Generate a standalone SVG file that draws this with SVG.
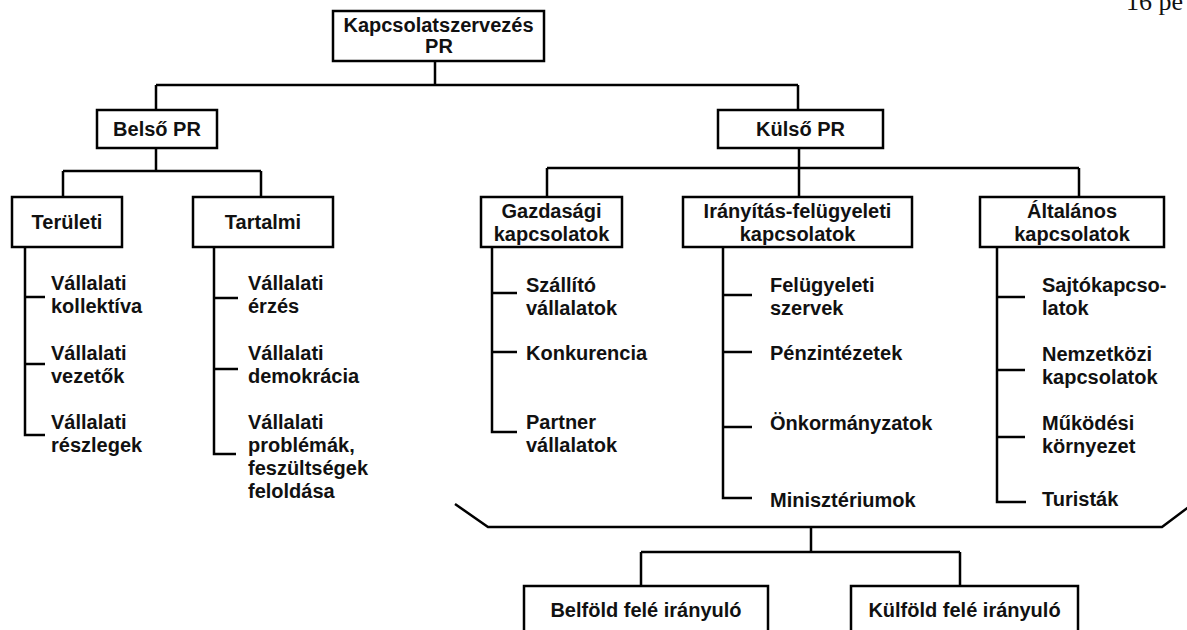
<svg xmlns="http://www.w3.org/2000/svg" width="1187" height="630" viewBox="0 0 1187 630">
<style>
.box{fill:#fff;stroke:#000;stroke-width:2.5}
.ln{fill:none;stroke:#000;stroke-width:2.5}
.t{font-family:"Liberation Sans",Arial,sans-serif;font-weight:bold;font-size:20px;fill:#111}
.c{text-anchor:middle}
.pg{font-family:"Liberation Serif","Times New Roman",serif;font-size:26px;fill:#111}
</style>
<rect width="1187" height="630" fill="#fff"/>
<text class="pg" x="1126" y="10">16 pe</text>
<g id="connectors">
<path class="ln" d="M435,61V85M156,85H798M156,85V110M798,85V110"/>
<path class="ln" d="M156,148V171M63,171H261M63,171V197M261,171V197"/>
<path class="ln" d="M799,148V197M547,168H1079M547,168V197M1079,168V197"/>
<path class="ln" d="M25,247V435H45M25,297H45M25,364H45"/>
<path class="ln" d="M214,247V454H236M214,298H238M214,369H238"/>
<path class="ln" d="M492,247V432H517M492,293H517M492,352H517"/>
<path class="ln" d="M723,247V498H752M723,295H752M723,352H752M723,427H752"/>
<path class="ln" d="M997,247V502H1026M997,297H1025M997,370H1025M997,437H1025"/>
<path class="ln" d="M455,504L488,527H1162L1190,506"/>
<path class="ln" d="M811,527V552M641,552H960M641,552V586M960,552V586"/>
</g>
<g id="root"><rect class="box" x="333" y="11" width="211" height="50"/><text class="t c" x="438.5" y="32">Kapcsolatszervezés</text><text class="t c" x="439" y="53">PR</text></g>
<g id="belso"><rect class="box" x="97" y="110" width="120" height="38"/><text class="t c" x="157" y="136">Belső PR</text></g>
<g id="kulso"><rect class="box" x="718" y="110" width="165" height="38"/><text class="t c" x="800.5" y="136">Külső PR</text></g>
<g id="teruleti"><rect class="box" x="12" y="197" width="110" height="50"/><text class="t c" x="67" y="229">Területi</text></g>
<g id="tartalmi"><rect class="box" x="193" y="197" width="140" height="50"/><text class="t c" x="263" y="229">Tartalmi</text></g>
<g id="gazdasagi"><rect class="box" x="481" y="197" width="141" height="50"/><text class="t c" x="551.5" y="218">Gazdasági</text><text class="t c" x="551.5" y="241">kapcsolatok</text></g>
<g id="iranyitas"><rect class="box" x="683" y="197" width="229" height="50"/><text class="t c" x="797.5" y="218">Irányítás-felügyeleti</text><text class="t c" x="797.5" y="241">kapcsolatok</text></g>
<g id="altalanos"><rect class="box" x="980" y="197" width="184" height="50"/><text class="t c" x="1072" y="218">Általános</text><text class="t c" x="1072" y="241">kapcsolatok</text></g>
<g id="belfold"><rect class="box" x="524" y="586" width="244" height="70"/><text class="t c" x="646" y="617">Belföld felé irányuló</text></g>
<g id="kulfold"><rect class="box" x="851" y="586" width="227" height="70"/><text class="t c" x="964.5" y="617">Külföld felé irányuló</text></g>
<g id="ter1"><text class="t" x="51" y="290">Vállalati<tspan x="51" dy="23">kollektíva</tspan></text></g>
<g id="ter2"><text class="t" x="51" y="360">Vállalati<tspan x="51" dy="23">vezetők</tspan></text></g>
<g id="ter3"><text class="t" x="51" y="429">Vállalati<tspan x="51" dy="23">részlegek</tspan></text></g>
<g id="tar1"><text class="t" x="248" y="290">Vállalati<tspan x="248" dy="23">érzés</tspan></text></g>
<g id="tar2"><text class="t" x="248" y="360">Vállalati<tspan x="248" dy="23">demokrácia</tspan></text></g>
<g id="tar3"><text class="t" x="248" y="429">Vállalati<tspan x="248" dy="23">problémák,</tspan><tspan x="248" dy="23">feszültségek</tspan><tspan x="248" dy="23">feloldása</tspan></text></g>
<g id="gaz1"><text class="t" x="526" y="292">Szállító<tspan x="526" dy="23">vállalatok</tspan></text></g>
<g id="gaz2"><text class="t" x="526" y="360">Konkurencia</text></g>
<g id="gaz3"><text class="t" x="526" y="429">Partner<tspan x="526" dy="23">vállalatok</tspan></text></g>
<g id="ira1"><text class="t" x="770" y="292">Felügyeleti<tspan x="770" dy="23">szervek</tspan></text></g>
<g id="ira2"><text class="t" x="770" y="360">Pénzintézetek</text></g>
<g id="ira3"><text class="t" x="770" y="430">Önkormányzatok</text></g>
<g id="ira4"><text class="t" x="770" y="507">Minisztériumok</text></g>
<g id="alt1"><text class="t" x="1042" y="292">Sajtókapcso-<tspan x="1042" dy="23">latok</tspan></text></g>
<g id="alt2"><text class="t" x="1042" y="361">Nemzetközi<tspan x="1042" dy="23">kapcsolatok</tspan></text></g>
<g id="alt3"><text class="t" x="1042" y="430">Működési<tspan x="1042" dy="23">környezet</tspan></text></g>
<g id="alt4"><text class="t" x="1042" y="506">Turisták</text></g>
</svg>
